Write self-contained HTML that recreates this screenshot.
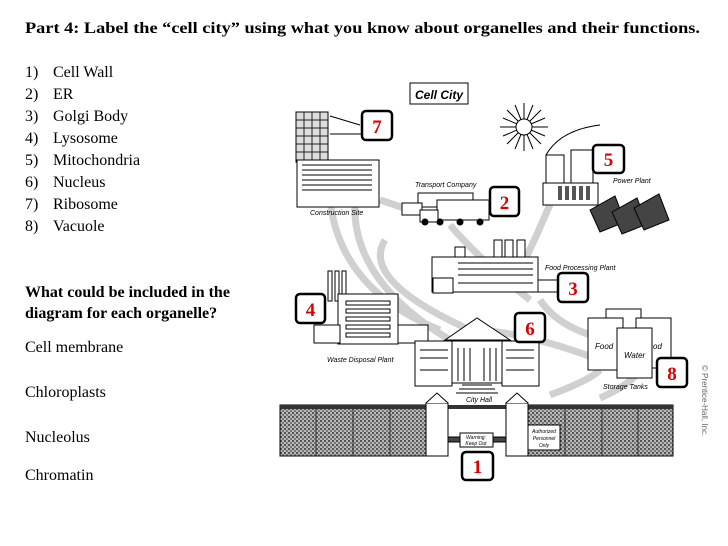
<!DOCTYPE html>
<html><head><meta charset="utf-8"><style>
html,body{margin:0;padding:0;background:#fff;width:728px;height:546px;overflow:hidden}
</style></head><body>
<svg width="728" height="546" xmlns="http://www.w3.org/2000/svg" font-family="Liberation Serif, serif">
<defs><pattern id="mesh" width="4" height="4" patternUnits="userSpaceOnUse"><rect width="4" height="4" fill="#b8b8b8"/><rect width="2" height="2" fill="#555"/><rect x="2" y="2" width="2" height="2" fill="#777"/></pattern></defs>
<rect width="728" height="546" fill="#fff"/>
<text x="25" y="33" font-size="15.5" font-weight="bold" textLength="675" lengthAdjust="spacingAndGlyphs">Part 4:  Label the “cell city” using what you know about organelles and their functions.</text>
<g font-size="16">
<text x="25" y="77">1)</text><text x="53" y="77">Cell Wall</text>
<text x="25" y="99">2)</text><text x="53" y="99">ER</text>
<text x="25" y="121">3)</text><text x="53" y="121">Golgi Body</text>
<text x="25" y="143">4)</text><text x="53" y="143">Lysosome</text>
<text x="25" y="165">5)</text><text x="53" y="165">Mitochondria</text>
<text x="25" y="187">6)</text><text x="53" y="187">Nucleus</text>
<text x="25" y="209">7)</text><text x="53" y="209">Ribosome</text>
<text x="25" y="231">8)</text><text x="53" y="231">Vacuole</text>
</g>
<text x="25" y="297" font-size="16" font-weight="bold">What could be included in the</text>
<text x="25" y="318" font-size="16" font-weight="bold">diagram for each organelle?</text>
<g font-size="16">
<text x="25" y="352">Cell membrane</text>
<text x="25" y="397">Chloroplasts</text>
<text x="25" y="442">Nucleolus</text>
<text x="25" y="480">Chromatin</text>
</g>
<!-- roads -->
<g fill="none" stroke="#d0d0d0" stroke-width="7">
<path d="M330 200 Q340 290 440 330"/>
<path d="M355 200 Q350 280 450 340"/>
<path d="M385 240 Q360 280 470 330 Q520 330 600 360"/>
<path d="M380 200 L410 210"/>
<path d="M450 225 Q480 260 530 300"/>
<path d="M560 180 Q540 230 520 270"/>
<path d="M540 300 Q560 330 610 340"/>
<path d="M550 395 Q590 380 600 370"/>
<path d="M600 398 Q630 385 640 370"/>
</g>
<rect x="410" y="83" width="58" height="21" fill="#fff" stroke="#000"/>
<text x="439" y="99" font-family="Liberation Sans, sans-serif" font-size="12" font-weight="bold" font-style="italic" text-anchor="middle">Cell City</text>
<g stroke="#000" fill="#fff" stroke-width="1">
<rect x="296" y="112" width="32" height="50" fill="#ddd"/>
<g stroke="#222"><path d="M296 120h32M296 128h32M296 136h32M296 144h32M296 152h32M304 112v50M312 112v50M320 112v50"/></g>
<rect x="297" y="160" width="82" height="47"/>
<g fill="#fff" stroke="#000"><path d="M302 165h70M302 170h70M302 175h70M302 180h70M302 185h70M302 190h70"/></g>
<path d="M330 116 L360 125"/><path d="M330 134 h32"/>
<text x="310" y="215" font-family="Liberation Sans, sans-serif" font-size="7" font-style="italic" stroke="none" fill="#000">Construction Site</text>
<rect x="418" y="193" width="55" height="14"/>
<rect x="437" y="200" width="52" height="20"/>
<rect x="402" y="203" width="20" height="12"/>
<rect x="420" y="210" width="18" height="12"/>
<circle cx="425" cy="222" r="3" fill="#000"/><circle cx="440" cy="222" r="3" fill="#000"/><circle cx="460" cy="222" r="3" fill="#000"/><circle cx="480" cy="222" r="3" fill="#000"/>
<text x="415" y="187" font-family="Liberation Sans, sans-serif" font-size="7" font-style="italic" stroke="none" fill="#000">Transport Company</text>
<g stroke="#000"><path d="M500 127h48M524 103v48M507 110l34 34M541 110l-34 34M503 118l42 18M503 136l42 -18M515 105l18 44M533 105l-18 44"/></g>
<circle cx="524" cy="127" r="8"/>
<path d="M546 155 Q560 130 600 125" fill="none"/>
<rect x="546" y="155" width="18" height="35"/><rect x="571" y="150" width="22" height="38"/>
<rect x="543" y="183" width="55" height="22"/>
<g fill="#555" stroke="none"><rect x="558" y="186" width="4" height="14"/><rect x="565" y="186" width="4" height="14"/><rect x="572" y="186" width="4" height="14"/><rect x="579" y="186" width="4" height="14"/><rect x="586" y="186" width="4" height="14"/></g>
<text x="613" y="183" font-family="Liberation Sans, sans-serif" font-size="7" font-style="italic" stroke="none" fill="#000">Power Plant</text>
<g fill="#444"><path d="M590 210 L615 196 L625 222 L600 232Z"/><path d="M612 212 L637 198 L647 224 L622 234Z"/><path d="M634 208 L659 194 L669 220 L644 230Z"/></g>
<rect x="494" y="240" width="8" height="17"/><rect x="505" y="240" width="8" height="17"/><rect x="517" y="240" width="8" height="17"/>
<rect x="455" y="247" width="10" height="12"/>
<rect x="432" y="257" width="106" height="35"/>
<rect x="433" y="278" width="20" height="15"/>
<g fill="#fff"><path d="M458 263h75M458 269h75M458 275h75M458 283h75"/></g>
<rect x="538" y="280" width="20" height="12"/>
<text x="545" y="270" font-family="Liberation Sans, sans-serif" font-size="7" font-style="italic" stroke="none" fill="#000">Food Processing Plant</text>
<rect x="328" y="271" width="4" height="30"/><rect x="335" y="271" width="4" height="30"/><rect x="342" y="271" width="4" height="30"/>
<rect x="338" y="294" width="60" height="50"/>
<rect x="314" y="325" width="26" height="18"/>
<rect x="398" y="325" width="30" height="18"/>
<g fill="#fff"><rect x="346" y="301" width="44" height="4"/><rect x="346" y="309" width="44" height="4"/><rect x="346" y="317" width="44" height="4"/><rect x="346" y="325" width="44" height="4"/><rect x="346" y="333" width="44" height="4"/></g>
<text x="327" y="362" font-family="Liberation Sans, sans-serif" font-size="7" font-style="italic" stroke="none" fill="#000">Waste Disposal Plant</text>
<path d="M445 340 L477 318 L510 340Z"/>
<rect x="415" y="341" width="37" height="45"/><rect x="452" y="341" width="50" height="42"/><rect x="502" y="341" width="37" height="45"/>
<g fill="#fff"><path d="M420 350h28M420 358h28M420 370h28M506 350h28M506 358h28M506 370h28M458 348v33M464 348v33M470 348v33M484 348v33M490 348v33M496 348v33"/></g>
<path d="M462 385h30M459 389h36M456 393h42"/>
<text x="466" y="402" font-family="Liberation Sans, sans-serif" font-size="7" font-style="italic" stroke="none" fill="#000">City Hall</text>
<rect x="606" y="309" width="35" height="50"/><rect x="636" y="318" width="35" height="50"/>
<rect x="588" y="318" width="35" height="52"/><rect x="617" y="328" width="35" height="50"/>
<text x="595" y="349" font-family="Liberation Sans, sans-serif" font-size="8" font-style="italic" stroke="none" fill="#000">Food</text>
<text x="624" y="358" font-family="Liberation Sans, sans-serif" font-size="8" font-style="italic" stroke="none" fill="#000">Water</text>
<text x="653" y="349" font-family="Liberation Sans, sans-serif" font-size="8" font-style="italic" stroke="none" fill="#000">od</text>
<text x="603" y="389" font-family="Liberation Sans, sans-serif" font-size="7" font-style="italic" stroke="none" fill="#000">Storage Tanks</text>
</g>
<rect x="280" y="405" width="146" height="51" fill="url(#mesh)" stroke="#000"/>
<rect x="528" y="405" width="145" height="51" fill="url(#mesh)" stroke="#000"/>
<g stroke="#333"><path d="M316 405v51M353 405v51M390 405v51M565 405v51M602 405v51M638 405v51"/></g>
<rect x="280" y="405" width="393" height="4" fill="#333"/>
<g stroke="#000" fill="#fff">
<rect x="426" y="403" width="22" height="53"/><path d="M426 403 L437 393 L448 403"/>
<rect x="506" y="403" width="22" height="53"/><path d="M506 403 L517 393 L528 403"/>
<rect x="448" y="437" width="58" height="5" fill="#444"/>
<rect x="460" y="433" width="33" height="14"/>
<rect x="528" y="425" width="32" height="25"/>
</g>
<text x="476" y="439" font-family="Liberation Sans, sans-serif" font-size="5" font-style="italic" text-anchor="middle">Warning:</text>
<text x="476" y="445" font-family="Liberation Sans, sans-serif" font-size="5" font-style="italic" text-anchor="middle">Keep Out</text>
<text x="544" y="433" font-family="Liberation Sans, sans-serif" font-size="5" font-style="italic" text-anchor="middle">Authorized</text>
<text x="544" y="440" font-family="Liberation Sans, sans-serif" font-size="5" font-style="italic" text-anchor="middle">Personnel</text>
<text x="544" y="447" font-family="Liberation Sans, sans-serif" font-size="5" font-style="italic" text-anchor="middle">Only</text>
<text x="702" y="365" font-family="Liberation Sans, sans-serif" font-size="8" fill="#666" transform="rotate(90 702 365)">© Prentice-Hall, Inc.</text>
<g stroke="#000" stroke-width="2.5" fill="#fff">
<rect x="362" y="111" width="30" height="29" rx="4"/>
<rect x="490" y="187" width="29" height="29" rx="4"/>
<rect x="593" y="145" width="31" height="28" rx="4"/>
<rect x="558" y="273" width="30" height="29" rx="4"/>
<rect x="296" y="294" width="29" height="29" rx="4"/>
<rect x="515" y="313" width="30" height="29" rx="4"/>
<rect x="657" y="358" width="30" height="29" rx="4"/>
<rect x="462" y="452" width="31" height="28" rx="4"/>
</g>
<g fill="#d00" font-size="19" font-weight="bold" text-anchor="middle">
<text x="377" y="133">7</text>
<text x="504.5" y="209">2</text>
<text x="608.5" y="166">5</text>
<text x="573" y="295">3</text>
<text x="310.5" y="316">4</text>
<text x="530" y="335">6</text>
<text x="672" y="380">8</text>
<text x="477.5" y="473">1</text>
</g>
</svg>
</body></html>
